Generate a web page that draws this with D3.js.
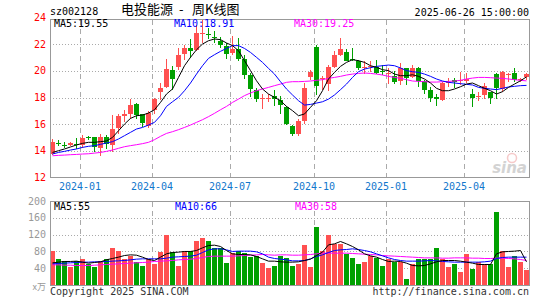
<!DOCTYPE html>
<html lang="zh">
<head>
<meta charset="UTF-8">
<title>电投能源 - 周K线图</title>
<script src="https://cdn.jsdelivr.net/npm/d3@7/dist/d3.min.js"></script>
<style>
  body { margin: 0; background: #fff; }
  svg { display: block; }
  text { font-family: "DejaVu Sans Mono", monospace; font-size: 10px; }
</style>
</head>
<body>
<svg width="545" height="300"></svg>
<script>
// weekly bars, 2023-12 .. 2025-06-26
const openP = [13.75,14.60,14.45,14.43,14.52,14.38,15.02,15.04,14.25,15.04,
  14.43,15.70,16.60,16.78,17.54,16.73,15.90,17.04,18.38,18.81,
  20.08,20.33,21.27,21.72,21.60,22.80,22.80,22.55,22.28,21.85,
  21.34,21.65,20.91,19.70,18.56,17.90,17.95,18.13,17.80,17.29,
  15.85,15.27,16.28,19.49,21.77,19.40,19.06,20.33,21.22,21.42,
  20.93,20.71,20.30,20.32,20.33,20.02,19.80,19.65,19.19,20.20,
  19.57,20.25,19.24,18.56,18.05,17.80,19.17,19.32,19.30,19.24,
  18.30,18.11,18.23,18.38,19.75,18.63,19.73,19.82,19.37,19.49];
const closeP = [14.68,14.57,14.42,14.58,14.48,14.94,14.99,14.28,15.04,14.50,
  15.65,16.60,16.78,17.47,16.73,16.03,16.86,17.87,18.68,20.15,
  19.44,21.22,21.72,21.52,22.86,22.86,22.76,22.52,21.97,21.27,
  21.67,20.91,19.70,18.68,17.92,17.95,17.99,17.92,17.42,16.03,
  15.27,16.25,18.73,19.90,18.81,19.50,20.33,21.22,21.65,20.76,
  20.90,20.20,20.33,20.35,19.87,19.99,19.83,19.19,20.20,19.44,
  20.25,19.24,18.56,17.97,17.87,19.06,19.20,19.14,19.33,19.39,
  17.97,18.14,18.89,17.92,18.68,19.90,19.75,19.32,19.39,19.75];
const highP = [14.90,14.83,14.68,14.68,14.94,15.19,15.14,15.04,15.27,15.21,
  16.66,16.78,17.04,17.87,17.62,16.73,16.96,17.97,19.06,20.90,
  20.38,21.72,21.92,22.43,23.44,23.90,23.24,22.99,22.53,22.10,
  22.60,22.48,21.22,19.82,18.68,18.23,18.23,18.56,18.13,17.37,
  15.95,16.40,19.06,20.08,21.92,19.65,20.46,21.52,22.48,21.67,
  21.72,20.84,20.71,20.76,20.84,20.46,20.20,20.00,20.58,20.25,
  20.46,20.33,19.32,18.81,18.23,19.19,19.49,19.44,19.90,19.82,
  18.63,18.38,19.06,18.43,19.82,20.00,19.82,20.25,19.49,19.82];
const lowP = [13.70,14.33,14.18,14.33,14.13,14.18,14.83,13.92,13.57,14.13,
  13.87,15.27,16.15,16.40,16.40,15.77,15.70,16.78,17.80,18.68,
  18.56,20.08,20.84,20.96,21.47,22.10,22.43,22.10,21.72,20.91,
  21.22,20.71,19.39,18.05,17.67,17.11,17.67,17.37,16.78,15.95,
  15.09,15.14,16.03,19.32,18.18,18.60,18.48,20.20,21.09,20.71,
  20.76,20.08,19.75,19.95,19.75,19.70,18.99,18.99,18.94,18.94,
  19.49,18.81,18.30,17.67,17.37,17.72,18.81,18.73,18.94,19.06,
  17.29,17.72,17.92,17.54,17.87,18.38,19.19,19.14,19.19,19.32];
const volume = [80,61,56,42,56,63,49,44,58,63,
  87,80,63,70,54,46,61,49,78,120,
  78,46,80,80,104,111,104,87,87,53,
  76,80,76,66,69,52,40,46,70,65,
  46,49,96,42,139,82,118,98,98,74,
  65,49,54,70,65,46,61,54,54,15,
  51,63,63,63,87,61,44,49,32,73,
  39,54,51,49,175,80,42,70,54,35];

const ma5 = [13.87,14.00,14.13,14.28,14.43,14.55,14.63,14.63,14.68,14.73,
  15.00,15.50,16.00,16.43,16.63,16.68,16.83,17.08,17.63,18.26,
  18.64,19.51,20.39,21.02,21.59,22.02,22.27,22.40,22.35,22.10,
  21.90,21.52,20.77,20.02,19.26,18.64,18.26,18.01,17.76,17.33,
  17.01,16.63,16.76,17.26,17.76,18.51,19.39,19.89,20.34,20.64,
  20.84,20.77,20.64,20.39,20.27,20.09,20.02,19.76,19.64,19.64,
  19.71,19.59,19.39,19.09,18.69,18.51,18.51,18.64,18.81,19.01,
  19.09,18.89,18.69,18.51,18.26,18.44,18.76,19.01,19.26,19.55];
const ma10 = [13.75,13.87,13.95,14.05,14.13,14.25,14.33,14.38,14.48,14.58,
  14.68,14.88,15.13,15.38,15.63,15.75,15.93,16.13,16.63,17.33,
  17.68,18.01,18.51,19.09,19.76,20.39,20.94,21.22,21.47,21.69,
  21.90,21.90,21.69,21.39,21.02,20.64,20.19,19.76,19.19,18.64,
  18.19,17.76,17.43,17.48,17.58,17.68,17.88,18.19,18.59,19.01,
  19.51,19.94,20.14,20.24,20.34,20.39,20.44,20.39,20.22,20.02,
  19.94,19.89,19.76,19.59,19.39,19.24,19.14,19.09,19.04,18.99,
  18.94,18.76,18.69,18.64,18.59,18.69,18.79,18.84,18.89,18.91];
const ma30 = [13.62,13.65,13.67,13.70,13.72,13.75,13.77,13.82,13.87,13.95,
  14.05,14.18,14.30,14.38,14.45,14.53,14.63,14.83,15.08,15.30,
  15.43,15.58,15.75,15.93,16.13,16.33,16.56,16.81,17.08,17.33,
  17.63,17.88,18.14,18.34,18.51,18.64,18.76,18.89,19.01,19.14,
  19.19,19.19,19.21,19.24,19.29,19.34,19.44,19.51,19.59,19.69,
  19.76,19.81,19.84,19.81,19.76,19.69,19.59,19.51,19.44,19.34,
  19.24,19.21,19.19,19.16,19.16,19.19,19.21,19.24,19.29,19.39,
  19.46,19.51,19.51,19.49,19.46,19.44,19.39,19.34,19.29,19.25];

const vma5 = [52.8,54.4,56,56,56.8,54.4,52,53.6,55.2,60,
  63.1,66.3,70.2,71.8,71,66.3,60.7,58.3,66.3,74.2,
  77.4,78.2,79.8,79.8,82.1,88.5,94,94.8,91.7,82.1,
  74.2,72.6,72.6,71.8,67.9,62.3,56.8,56.8,55.2,54.4,
  54.4,55.2,58.3,61.5,70.2,78.2,95.6,98,103.6,98,
  91.7,83.7,74.2,69.4,66.3,60.7,56,56.8,56,52,
  46.4,45.6,46.4,50.4,55.2,58.3,58.3,58.3,56.8,54.4,
  52,48.8,48.8,48.8,74.2,79,79.8,80.6,82.1,55.2];
const vma10 = [50.4,51.2,52,52.8,53.6,54.4,54.4,55.2,55.2,56,
  56.8,57.5,58.3,59.9,61.5,62.3,62.3,62.3,62.3,63.9,
  66.3,67.1,67.9,68.7,71,77.4,83.7,86.1,86.1,83.7,
  79.8,80.6,80.6,80.6,79,74.2,66.3,63.1,61.5,59.9,
  57.5,57.5,58.3,62.3,67.9,71.8,77.4,82.1,83.7,84.5,
  86.1,84.5,82.1,79,74.2,69.4,64.6,60.7,58.3,56.8,
  56.8,56.8,57.5,58.3,57.5,56,55.2,54.4,54.4,54.4,
  54.4,54.4,55.2,56.8,63.1,65.5,66.3,66.3,66.3,66.3];
const vma30 = [48,48,47.2,47.2,46.4,46.4,46.4,47.2,48,48.8,
  49.6,50.4,51.2,52,52.8,53.6,54.4,56,56.8,57.5,
  58.3,59.9,60.7,61.5,63.1,65.5,67.9,68.7,68.7,68.7,
  68.7,69.4,70.2,71,71.8,72.6,71.8,71,71.8,71.8,
  71,71,71.8,72.6,74.2,75.8,75.8,75.8,75.8,75.8,
  75,74.2,73.4,72.6,71.8,70.2,69.4,68.7,67.9,67.1,
  66.3,65.5,64.6,64.6,64.6,63.9,63.9,64.6,64.6,64.6,
  63.9,63.9,63.1,63.1,63.9,63.9,63.1,62.3,60.7,58.3];

const monthIdx = [5, 17, 30, 44, 56, 69];
const monthLbl = ["2024-01", "2024-04", "2024-07", "2024-10", "2025-01", "2025-04"];
const priceTicks = [24, 22, 20, 18, 16, 14, 12];
const volTicks = [200, 160, 120, 80, 40];

const UP = "#ff5050", DOWN = "#00a000";
const L = 50, R = 529;

const svg = d3.select("svg");
const x = d3.scaleLinear().domain([0, 79]).range([52, 526]);
const y = d3.scaleLinear().domain([12, 24]).range([177.3, 17.7]);
const vy = d3.scaleLinear().domain([0, 200]).range([285, 201]);

const idx = d3.range(closeP.length);
const px = i => Math.round(x(i));

svg.append("defs").append("clipPath").attr("id", "mainclip")
  .append("rect").attr("x", L + 1).attr("y", 19.5).attr("width", R - L - 1).attr("height", 157.5);

// header
svg.append("text").attr("x", 50).attr("y", 15).text("sz002128");
const title = svg.append("text").attr("y", 13.5)
  .style("font-family", "'Noto Sans CJK SC', sans-serif").style("font-size", "13px");
title.append("tspan").attr("x", 121).text("电投能源");
title.append("tspan").attr("x", 179).text("-");
title.append("tspan").attr("x", 192).text("周K线图");
svg.append("text").attr("x", R).attr("y", 15.5).attr("text-anchor", "end").text("2025-06-26 15:00:00");

// grids
const grid = svg.append("g").attr("shape-rendering", "crispEdges");
grid.selectAll(".hp").data(priceTicks.slice(1, -1)).join("line")
  .attr("x1", L).attr("x2", R).attr("y1", d => Math.round(y(d)) + 0.5).attr("y2", d => Math.round(y(d)) + 0.5)
  .attr("stroke", "#aaa").attr("stroke-dasharray", "1,2");
grid.selectAll(".hv").data(volTicks.slice(1)).join("line")
  .attr("x1", L).attr("x2", R).attr("y1", d => Math.round(vy(d)) + 0.5).attr("y2", d => Math.round(vy(d)) + 0.5)
  .attr("stroke", "#aaa").attr("stroke-dasharray", "1,2");
monthIdx.forEach(i => {
  const gx = px(i) - 2 + 0.5;
  grid.append("line").attr("x1", gx).attr("x2", gx).attr("y1", 20).attr("y2", 177)
    .attr("stroke", "#aaa").attr("stroke-dasharray", "5,4");
  grid.append("line").attr("x1", gx).attr("x2", gx).attr("y1", 202).attr("y2", 285)
    .attr("stroke", "#aaa").attr("stroke-dasharray", "5,4");
});

// axis labels
svg.selectAll(".pl").data(priceTicks).join("text")
  .attr("x", 46).attr("y", d => y(d) + 3.5).attr("text-anchor", "end")
  .attr("fill", "#ff0000").text(d => d);
svg.selectAll(".vl").data(volTicks).join("text")
  .attr("x", 46).attr("y", d => vy(d) + 3.5).attr("text-anchor", "end")
  .attr("fill", "#999").text(d => d);
svg.append("text").attr("x", 46).attr("y", 290).attr("text-anchor", "end")
  .attr("fill", "#999").style("font-family", "'Noto Sans CJK SC', sans-serif").style("font-size", "9px").text("x万");
svg.selectAll(".ml").data(monthIdx).join("text")
  .attr("x", d => px(d) - 2).attr("y", 190).attr("text-anchor", "middle")
  .attr("fill", "#1177cc").text((d, k) => monthLbl[k]);

// watermark
const wm = svg.append("g").attr("opacity", 0.55);
wm.append("circle").attr("cx", 512).attr("cy", 158).attr("r", 4.5)
  .attr("fill", "none").attr("stroke", "#f0a0a0").attr("stroke-width", 1.5);
wm.append("text").attr("x", 527).attr("y", 173).attr("text-anchor", "end")
  .style("font-family", "'DejaVu Sans', sans-serif").style("font-size", "15px")
  .style("font-weight", "bold").style("font-style", "italic").attr("fill", "#b0b0b0").text("sina");

// candles
const cg = svg.append("g").attr("clip-path", "url(#mainclip)").attr("shape-rendering", "crispEdges");
const color = i => closeP[i] >= openP[i] ? UP : DOWN;
cg.selectAll(".wick").data(idx).join("line")
  .attr("x1", i => px(i) + 0.5).attr("x2", i => px(i) + 0.5)
  .attr("y1", i => y(highP[i])).attr("y2", i => y(lowP[i]))
  .attr("stroke", color);
cg.selectAll(".body").data(idx).join("rect")
  .attr("x", i => px(i) - 2).attr("width", 5)
  .attr("y", i => Math.round(y(Math.max(openP[i], closeP[i]))))
  .attr("height", i => Math.max(1, Math.round(Math.abs(y(openP[i]) - y(closeP[i])))))
  .attr("fill", color);

const line = arr => d3.line().x(i => px(i) + 0.5).y(i => y(arr[i]))(idx);
const vline = arr => d3.line().x(i => px(i) + 0.5).y(i => vy(arr[i]))(idx);
const lines = svg.append("g").attr("clip-path", "url(#mainclip)").attr("fill", "none").attr("stroke-width", 1);
lines.append("path").attr("d", line(ma30)).attr("stroke", "#ff00ff");
lines.append("path").attr("d", line(ma10)).attr("stroke", "#0000ff");
lines.append("path").attr("d", line(ma5)).attr("stroke", "#000");

// volume
svg.append("g").attr("shape-rendering", "crispEdges").selectAll("rect").data(idx).join("rect")
  .attr("x", i => px(i) - 2).attr("width", 5)
  .attr("y", i => Math.round(vy(volume[i])))
  .attr("height", i => vy(0) - Math.round(vy(volume[i])))
  .attr("fill", color);
const vl = svg.append("g").attr("fill", "none").attr("stroke-width", 1);
vl.append("path").attr("d", vline(vma30)).attr("stroke", "#ff00ff");
vl.append("path").attr("d", vline(vma10)).attr("stroke", "#0000ff");
vl.append("path").attr("d", vline(vma5)).attr("stroke", "#000");

// frames
svg.append("rect").attr("x", L + 0.5).attr("y", 19.5).attr("width", R - L).attr("height", 158)
  .attr("fill", "none").attr("stroke", "#999").attr("shape-rendering", "crispEdges");
svg.append("rect").attr("x", L + 0.5).attr("y", 201.5).attr("width", R - L).attr("height", 84)
  .attr("fill", "none").attr("stroke", "#999").attr("shape-rendering", "crispEdges");

// MA legends
const legend = (yy, items) => items.forEach(([lx, t, c]) =>
  svg.append("text").attr("x", lx).attr("y", yy).attr("fill", c).text(t));
legend(26.5, [[54, "MA5:" + ma5[79].toFixed(2), "#000"], [174, "MA10:" + ma10[79].toFixed(2), "#0000ff"],
  [294, "MA30:" + ma30[79].toFixed(2), "#ff00ff"]]);
legend(209.5, [[54, "MA5:55", "#000"], [175, "MA10:66", "#0000ff"], [295, "MA30:58", "#ff00ff"]]);

// footer
svg.append("text").attr("x", 50).attr("y", 295).attr("fill", "#333").text("Copyright 2025 SINA.COM");
svg.append("text").attr("x", R).attr("y", 295).attr("text-anchor", "end").attr("fill", "#333").text("http://finance.sina.com.cn");
</script>
</body>
</html>
